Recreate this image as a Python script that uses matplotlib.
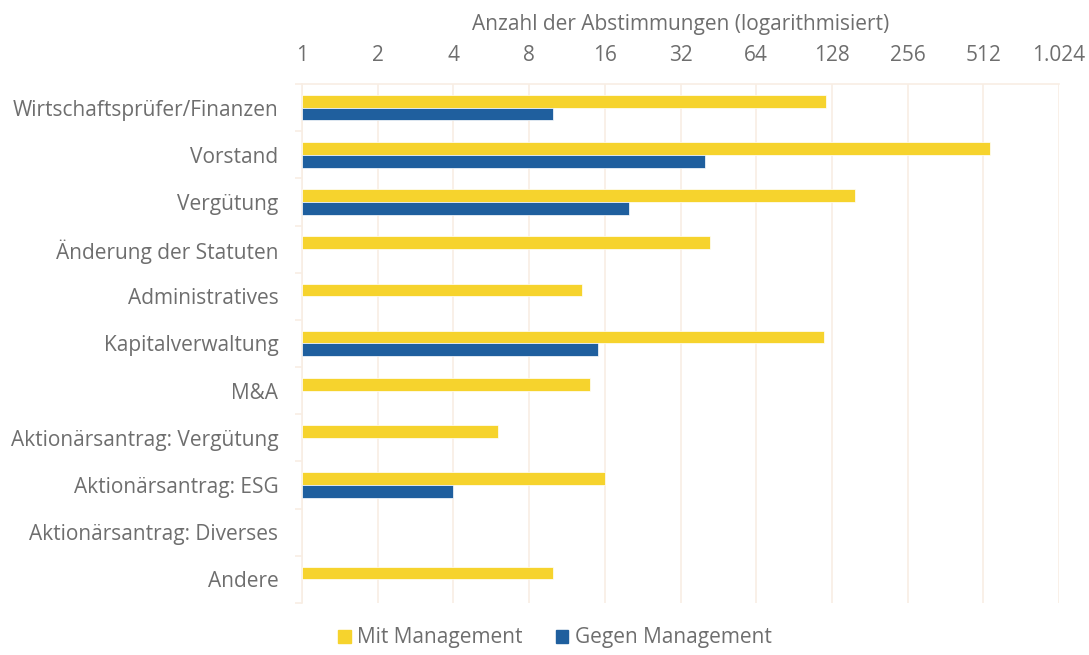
import numpy as np
import matplotlib.pyplot as plt
from matplotlib.ticker import FixedLocator, NullLocator
from matplotlib.patches import Patch

# Daten
kategorien = ["Wirtschaftsprüfer/Finanzen", "Vorstand", "Vergütung", "Änderung der Statuten",
              "Administratives", "Kapitalverwaltung", "M&A", "Aktionärsantrag: Vergütung",
              "Aktionärsantrag: ESG", "Aktionärsantrag: Diverses", "Andere"]
mit_management = [121, 545, 158, 42, 13, 119, 14, 6, 16, np.nan, 10]
gegen_management = [10, 40, 20, np.nan, np.nan, 15, np.nan, np.nan, 4, np.nan, np.nan]
ticks = [1, 2, 4, 8, 16, 32, 64, 128, 256, 512, 1024]
tick_labels = ["1", "2", "4", "8", "16", "32", "64", "128", "256", "512", "1.024"]

gelb = "#F6D32D"
blau = "#1F5F9E"
grau = "#6E6E6E"
gitter = "#F8EEE4"

plt.rcParams['font.family'] = ['Open Sans', 'DejaVu Sans']

fig = plt.figure(figsize=(10.89, 6.55), dpi=100)
ax = fig.add_axes([302 / 1089, 1 - 603 / 655, 757 / 1089, 519 / 655])

y = np.arange(len(kategorien))
h = 0.27
mit = np.array(mit_management, dtype=float)
gegen = np.array(gegen_management, dtype=float)
ax.barh(y - h / 2, mit - 1, left=1, height=h, color=gelb, edgecolor='white', linewidth=0.5, zorder=3)
ax.barh(y + h / 2, gegen - 1, left=1, height=h, color=blau, edgecolor='white', linewidth=0.5, zorder=3)

ax.set_xscale('log', base=2)
ax.set_xlim(1, 1024)
ax.set_ylim(len(kategorien) - 0.5, -0.5)
ax.xaxis.set_major_locator(FixedLocator(ticks))
ax.xaxis.set_minor_locator(NullLocator())
ax.set_xticklabels(tick_labels)
ax.xaxis.tick_top()
ax.xaxis.set_label_position('top')
ax.set_xlabel("Anzahl der Abstimmungen (logarithmisiert)", fontsize=15, color=grau, labelpad=11)
ax.tick_params(axis='x', length=0, labelsize=15, labelcolor=grau, pad=13)

ax.set_yticks(y)
ax.set_yticklabels(kategorien)
ax.set_yticks(np.arange(len(kategorien) + 1) - 0.5, minor=True)
ax.tick_params(axis='y', which='major', length=0, labelsize=15, labelcolor=grau, pad=17)
ax.tick_params(axis='y', which='minor', length=5, color=gitter, width=1.2)

ax.grid(axis='x', color=gitter, linewidth=1.2, zorder=0)
for s in ['right', 'bottom']:
    ax.spines[s].set_visible(False)
ax.spines['left'].set_color(gitter)
ax.spines['left'].set_linewidth(1.2)
ax.spines['top'].set_color(gitter)
ax.spines['top'].set_linewidth(1.2)

handles = [Patch(color=gelb, label="Mit Management"), Patch(color=blau, label="Gegen Management")]
fig.legend(handles=handles, loc='center', bbox_to_anchor=(555 / 1089, 1 - 638 / 655), ncol=2,
           frameon=False, fontsize=15, labelcolor=grau, handlelength=0.6, handleheight=0.6,
           handletextpad=0.3, columnspacing=1.6)

fig.savefig("out.png", dpi=100)
